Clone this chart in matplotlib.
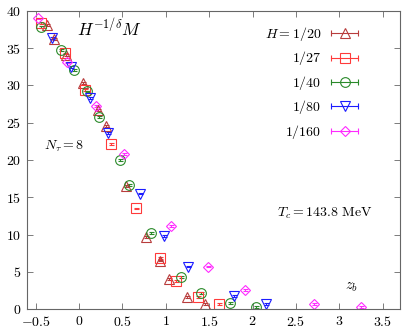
"""Scaling plot of H^{-1/delta} M against z_b for several H values."""

from matplotlib import pyplot as plt
from matplotlib.lines import Line2D
from matplotlib.legend_handler import HandlerBase

plt.rcParams['font.family'] = 'serif'
plt.rcParams['font.serif'] = ['cmr10', 'DejaVu Serif']
plt.rcParams['mathtext.fontset'] = 'cm'
plt.rcParams['axes.formatter.use_mathtext'] = True

# data
z_20 = [-0.373, -0.288, -0.145, 0.043, 0.216, 0.308, 0.539, 0.777, 0.93, 1.04, 1.246, 1.45]
m_20 = [38.1, 36.2, 34.1, 30.3, 26.7, 24.6, 16.5, 9.7, 6.5, 4.0, 1.6, 0.7]

z_27 = [-0.434, -0.165, 0.066, 0.366, 0.654, 0.931, 1.115, 1.373, 1.611]
m_27 = [38.4, 34.3, 29.4, 22.2, 13.5, 6.9, 3.8, 1.6, 0.7]

z_40 = [-0.434, -0.203, -0.061, 0.092, 0.227, 0.469, 0.577, 0.835, 1.181, 1.41, 1.738, 2.035]
m_40 = [37.9, 34.8, 32.1, 29.2, 25.8, 20.0, 16.6, 10.2, 4.3, 2.1, 0.8, 0.3]

z_80 = [-0.307, -0.088, 0.123, 0.334, 0.708, 0.977, 1.257, 1.784, 2.15]
m_80 = [36.4, 32.5, 28.3, 23.6, 15.5, 9.8, 5.7, 1.75, 0.7]

z_160 = [-0.473, -0.138, 0.2, 0.519, 1.066, 1.488, 1.911, 2.71, 3.25]
m_160 = [39.0, 33.1, 27.2, 20.8, 11.1, 5.7, 2.6, 0.7, 0.3]

labels = ['$H = 1/20$', '$1/27$', '$1/40$', '$1/80$', '$1/160$']


class BarHandler(HandlerBase):
    """Legend entry drawn as a horizontal error bar with the marker."""

    def create_artists(self, legend, orig, xd, yd, w, h, fs, trans):
        x0, x1 = -xd, w - xd
        y = h / 2 - yd
        c = orig.get_color()
        bar = Line2D([x0, x1], [y, y], color=c, lw=0.8,
                     marker='|', ms=5, mew=0.8)
        mk = Line2D([(x0 + x1) / 2], [y], ls='none', marker=orig.get_marker(),
                    ms=orig.get_markersize(), mfc='none', mec=c, mew=0.8)
        bar.set_transform(trans)
        mk.set_transform(trans)
        return [bar, mk]


series = [
    (z_20, m_20, '#b83c3c', '^', 7.0),
    (z_27, m_27, '#ff3a3a', 's', 6.5),
    (z_40, m_40, '#2a8a2a', 'o', 7.0),
    (z_80, m_80, '#1c1cff', 'v', 7.0),
    (z_160, m_160, '#ff2aff', 'D', 5.5),
]

fig = plt.figure(figsize=(4.07, 3.33), dpi=100)
ax = fig.add_axes([0.066, 0.072, 0.917, 0.895])

handles = []
for (z, m, c, mk, ms), lab in zip(series, labels):
    ax.errorbar(z, m, yerr=0.12, fmt=mk, ms=ms, mfc='none', mec=c, mew=0.8,
                ecolor=c, elinewidth=0.8, capsize=1.8, capthick=0.8)
    handles.append(Line2D([], [], color=c, marker=mk, ms=ms, label=lab))

ax.set_xlim(-0.6, 3.7)
ax.set_ylim(0, 40)
ax.set_xticks([-0.5, 0, 0.5, 1, 1.5, 2, 2.5, 3, 3.5])
ax.set_xticklabels(['$-0.5$', '$0$', '$0.5$', '$1$', '$1.5$', '$2$', '$2.5$', '$3$', '$3.5$'])
ax.set_yticks(range(0, 41, 5))
ax.tick_params(direction='in', top=True, right=True, length=4, width=0.6,
               color='#666666', labelsize=10, pad=4)
for sp in ax.spines.values():
    sp.set_color('#666666')
    sp.set_linewidth(0.8)

ax.text(0.22, 0.943, r'$H^{-1/\delta} M$', transform=ax.transAxes, fontsize=12.5,
        ha='center', va='center')
ax.text(0.045, 0.545, r'$N_\tau = 8$', transform=ax.transAxes, fontsize=10,
        ha='left', va='center')
ax.text(0.67, 0.32, r'$T_c = 143.8\ \mathrm{MeV}$', transform=ax.transAxes,
        fontsize=10, ha='left', va='center')
ax.text(0.87, 0.075, r'$z_b$', transform=ax.transAxes, fontsize=10.5,
        ha='center', va='center')

ax.legend(handles=handles, handler_map={Line2D: BarHandler()}, loc='upper right',
          bbox_to_anchor=(0.92, 0.995), frameon=False, markerfirst=False,
          fontsize=10, handlelength=1.9, handletextpad=0.7, labelspacing=0.46)

fig.savefig('out.png', dpi=100)
